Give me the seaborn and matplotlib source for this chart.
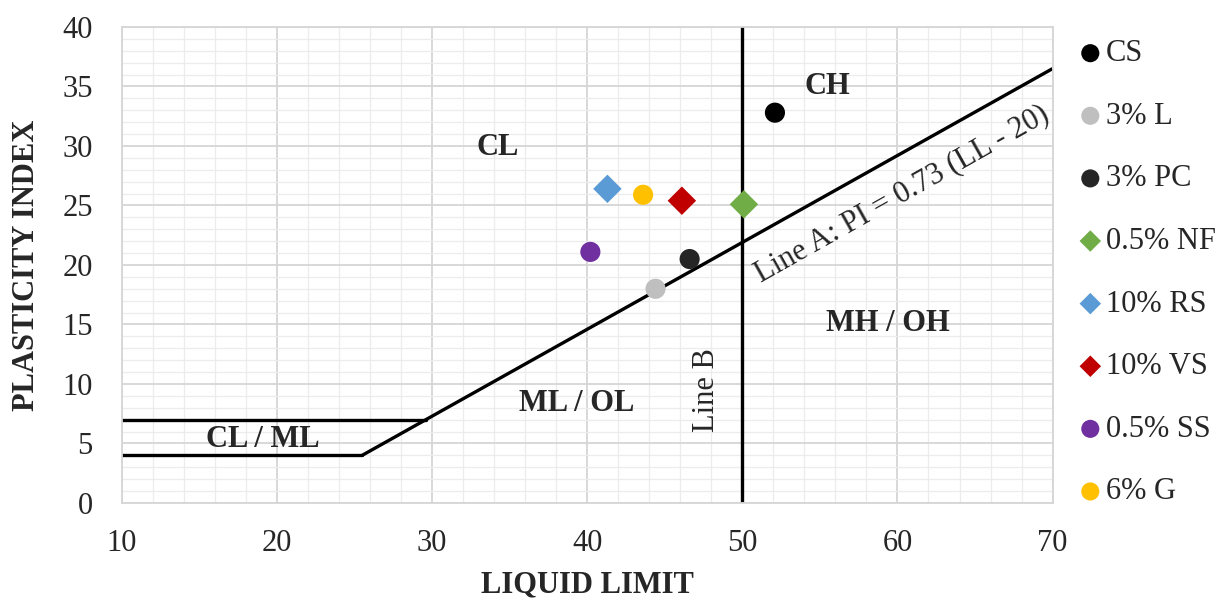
import numpy as np
import pandas as pd
import matplotlib
matplotlib.use("Agg")
import matplotlib.pyplot as plt
import seaborn as sns

# Sample results: liquid limit and plasticity index
labels = ["CS", "3% L", "3% PC", "0.5% NF", "10% RS", "10% VS", "0.5% SS", "6% G"]
liquid_limit = [52.1, 44.4, 46.6, 50.1, 41.3, 46.1, 40.2, 43.6]
plasticity_index = [32.8, 18.0, 20.5, 25.1, 26.4, 25.4, 21.1, 25.9]
colors = ["#000000", "#bfbfbf", "#262626", "#70ad47", "#5b9bd5", "#c00000", "#7030a0", "#ffc000"]
shapes = ["o", "o", "o", "D", "D", "D", "o", "o"]

# Casagrande chart boundaries
line_a_ll = [25.48, 70]
line_b_ll = 50
clml_upper, clml_lower = 7, 4

df = pd.DataFrame({"Sample": labels, "LL": liquid_limit, "PI": plasticity_index})

sns.set_theme(style="white")
plt.rcParams["font.family"] = ["Liberation Serif", "DejaVu Serif"]

FS = 22
TXT = "#262626"

fig = plt.figure(figsize=(12.16, 6.05), dpi=100)
ax = fig.add_axes([0.1003, 0.1686, 0.7653, 0.7868])

ax.set_xlim(10, 70)
ax.set_ylim(0, 40)
ax.set_xticks(np.arange(10, 71, 10))
ax.set_yticks(np.arange(0, 41, 5))
ax.set_xticks(np.arange(10, 71, 2), minor=True)
ax.set_yticks(np.arange(0, 41, 1), minor=True)
ax.grid(which="major", color="#d6d6d6", linewidth=1.3)
ax.grid(which="minor", color="#ececec", linewidth=0.9)
ax.set_axisbelow(True)
for s in ax.spines.values():
    s.set_color("#d6d6d6")
    s.set_linewidth(1.3)
ax.tick_params(which="both", length=0, labelsize=FS, colors=TXT)
ax.tick_params(axis="x", pad=19)
ax.tick_params(axis="y", pad=21)

# Boundary lines
lw = 2.4
a_x = np.array(line_a_ll)
ax.plot(a_x, 0.73 * (a_x - 20), color="black", lw=lw, solid_capstyle="butt")
ax.plot([10, 20 + clml_upper / 0.73], [clml_upper, clml_upper], color="black", lw=lw)
ax.plot([10, 20 + clml_lower / 0.73], [clml_lower, clml_lower], color="black", lw=lw)
ax.plot([line_b_ll, line_b_ll], [0, 40], color="black", lw=lw)

# Data points
sns.scatterplot(data=df, x="LL", y="PI", hue="Sample", style="Sample",
                palette=dict(zip(labels, colors)), markers=dict(zip(labels, shapes)),
                s=210, edgecolor="none", ax=ax, zorder=5, legend=False)
for lab, c, m in zip(labels, colors, shapes):
    ax.scatter([], [], color=c, marker=m, s=170 if m == "o" else 120,
               edgecolors="none", label=lab)

# Zone labels
zb = dict(fontsize=FS, fontweight="bold", color=TXT, ha="center", va="center")
ax.text(34.2, 29.9, "CL", **zb)
ax.text(55.5, 35.0, "CH", **zb)
ax.text(39.3, 8.4, "ML / OL", **zb)
ax.text(59.4, 15.1, "MH / OH", **zb)
ax.text(19.1, 5.3, "CL / ML", **zb)
ax.text(47.7, 9.5, "Line B", fontsize=FS, color=TXT, rotation=90,
        ha="center", va="center")
ax.text(60.3, 26.0, "Line A: PI = 0.73 (LL - 20)", fontsize=FS, color=TXT,
        rotation=29.4, rotation_mode="anchor", ha="center", va="center")

ax.set_xlabel("LIQUID LIMIT", fontsize=FS, fontweight="bold", color=TXT, labelpad=9)
ax.set_ylabel("PLASTICITY INDEX", fontsize=FS, fontweight="bold", color=TXT, labelpad=15)

leg = ax.legend(loc="upper left", bbox_to_anchor=(1.011, 1.0), frameon=False,
                fontsize=FS, handletextpad=0.0, labelspacing=1.1,
                handlelength=1.0, borderaxespad=0)
for t in leg.get_texts():
    t.set_color(TXT)

fig.savefig("out.png", dpi=100)
